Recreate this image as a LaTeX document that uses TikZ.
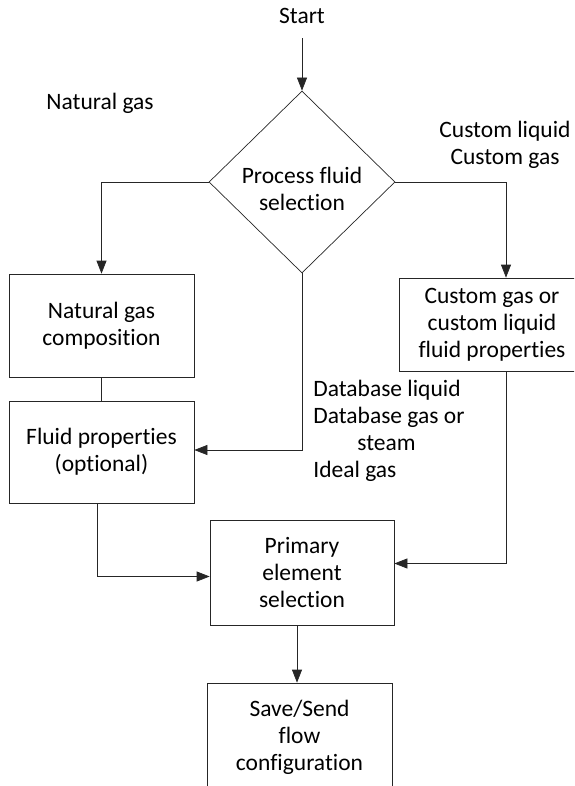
\documentclass[tikz,border=0pt]{standalone}
\usepackage{fontspec}
\setmainfont{Carlito}[Ligatures=NoCommon]
\usetikzlibrary{shapes.geometric,arrows.meta}

\begin{document}
\begin{tikzpicture}[x=1pt, y=-1pt,
  line width=0.7pt, draw=black!85,
  font=\fontsize{23.5}{27}\selectfont,
  block/.style={draw, rectangle, align=center, inner sep=0pt},
  choice/.style={draw, diamond, aspect=1, align=center, inner sep=0pt,
    minimum width=186pt, minimum height=182pt},
  flow/.style={-{Triangle[length=13pt, width=10pt]}},
  label/.style={align=center, inner sep=0pt}]
  % Page
  \useasboundingbox (0,0) rectangle (574,786);
  \clip (0,0) rectangle (574,786);

  % Start and selection
  \node[label] (start) at (302,16) {Start};
  \node[choice] (sel) at (302,182) {};
  \node[label] (seltext) at (302,189) {Process fluid\\selection};

  % Left branch
  \node[label] (ngas) at (100,103) {Natural gas};
  \node[block, minimum width=185pt, minimum height=103pt] (ngc) at (101.5,325.5)
    {Natural gas\\composition};
  \node[block, minimum width=185pt, minimum height=102pt] (fp) at (101.5,452)
    {Fluid properties\\(optional)};

  % Right branch
  \node[label] (custom) at (505,145) {Custom liquid\\Custom gas};
  \node[block, minimum width=186pt, minimum height=93pt] (cgp) at (492,324.5)
    {Custom gas or\\custom liquid\\fluid properties};

  % Middle branch
  \node[align=left, inner sep=0pt, anchor=north west] (dbase) at (313,380)
    {Database liquid\\Database gas or\\\hspace*{44pt}steam\\Ideal gas};

  % Primary element and save
  \node[block, minimum width=184pt, minimum height=105pt] (pes) at (302,572.5)
    {Primary\\element\\selection};
  \node[block, minimum width=185pt, minimum height=108pt] (sps) at (299.5,737)
    {Save/Send\\flow\\configuration};

  % Connectors
  \draw[flow] ([yshift=-14pt]start.south) -- (sel.north);
  \draw[flow] (sel.west) -| (ngc.north);
  \draw (ngc.south) -- (fp.north);
  \draw[flow] (sel.south) |- ([yshift=2pt]fp.east);
  \draw[flow] (sel.east) -| ([xshift=14pt]cgp.north);
  \draw[flow] ([xshift=-4pt]fp.south) |- ([yshift=-4pt]pes.west);
  \draw[flow] ([xshift=14pt]cgp.south) |- ([yshift=9pt]pes.east);
  \draw[flow] ([xshift=-5pt]pes.south) -- ([xshift=-2.5pt]sps.north);
\end{tikzpicture}
\end{document}
